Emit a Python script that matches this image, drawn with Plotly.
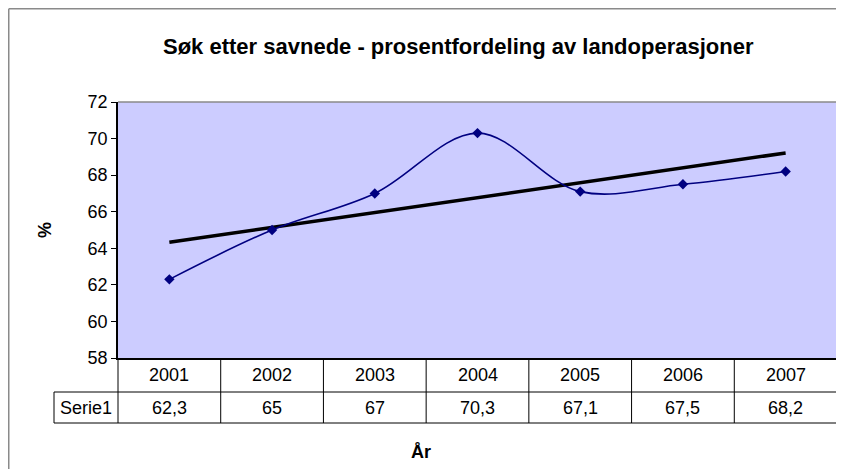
import plotly.graph_objects as go
import numpy as np

years = ["2001", "2002", "2003", "2004", "2005", "2006", "2007"]
values = [62.3, 65, 67, 70.3, 67.1, 67.5, 68.2]
series_name = "Serie1"
y_ticks = [58, 60, 62, 64, 66, 68, 70, 72]
title_text = "Søk etter savnede - prosentfordeling av landoperasjoner"
y_title = "%"
x_title = "År"

FONT = "Arial, Liberation Sans, sans-serif"
OFF = 8  # browser page margin
W, H = 844 - OFF, 469 - OFF
# plot area in reference (page) pixels: x 118..837, y 102..358
ML = 118 - OFF
MT = 102 - OFF
MR = W - (837 - OFF)
MB = H - (358 - OFF)
PW = W - ML - MR
PH = H - MT - MB

n = len(years)
xi = np.arange(1, n + 1)
slope, intercept = np.polyfit(xi, values, 1)
trend = slope * xi + intercept

fig = go.Figure()
fig.add_trace(go.Scatter(x=xi, y=trend, mode="lines",
                         line=dict(color="black", width=3.5), hoverinfo="skip",
                         showlegend=False))
fig.add_trace(go.Scatter(x=xi, y=values, mode="lines+markers",
                         line=dict(color="#000080", width=1.6, shape="spline", smoothing=1),
                         marker=dict(symbol="diamond", size=8, color="#000080"),
                         name=series_name, showlegend=False))


def px_x(p):
    return (p - OFF - ML) / PW


def px_y(p):
    return (H - MB - (p - OFF)) / PH


shapes = []
# outer chart border (top and left)
shapes.append(dict(type="line", xref="paper", yref="paper", x0=px_x(8.75), x1=px_x(850), y0=px_y(8.75), y1=px_y(8.75),
                   line=dict(color="#8a8a8a", width=1.5)))
shapes.append(dict(type="line", xref="paper", yref="paper", x0=px_x(8.75), x1=px_x(8.75), y0=px_y(8.75), y1=px_y(480),
                   line=dict(color="#8a8a8a", width=1.5)))
# plot-area top/right gray border
shapes.append(dict(type="line", xref="paper", yref="paper", x0=0, x1=1, y0=1, y1=1,
                   line=dict(color="#8a8a8a", width=1.5)))
shapes.append(dict(type="line", xref="paper", yref="paper", x0=1, x1=1, y0=0, y1=1,
                   line=dict(color="#8a8a8a", width=1.5)))

# data table
row1_bot = px_y(392)
row2_bot = px_y(423)
label_left = px_x(54)
tbl = dict(color="black", width=1)
for k in range(n + 1):
    shapes.append(dict(type="line", xref="paper", yref="paper", x0=k / n, x1=k / n, y0=0, y1=row2_bot, line=tbl))
shapes.append(dict(type="line", xref="paper", yref="paper", x0=label_left, x1=1, y0=row1_bot, y1=row1_bot, line=tbl))
shapes.append(dict(type="line", xref="paper", yref="paper", x0=label_left, x1=1, y0=row2_bot, y1=row2_bot, line=tbl))
shapes.append(dict(type="line", xref="paper", yref="paper", x0=label_left, x1=label_left, y0=row1_bot, y1=row2_bot, line=tbl))

annotations = []
fs = 18


def txt(x, y, s, size=fs, bold=False, angle=0):
    f = dict(family=FONT, size=size, color="black")
    if bold:
        f["weight"] = "bold"
    return dict(xref="paper", yref="paper", x=x, y=y, text=s, showarrow=False,
                xanchor="center", yanchor="middle", textangle=angle, font=f)


for k, (yr, v) in enumerate(zip(years, values)):
    cx = (k + 0.5) / n
    annotations.append(txt(cx, px_y(375), yr))
    annotations.append(txt(cx, px_y(407.5), f"{v:g}".replace(".", ",")))
annotations.append(txt(label_left / 2, px_y(407.5), series_name))
annotations.append(txt(px_x(421), px_y(452), x_title, size=18, bold=True))
annotations.append(txt(px_x(45), px_y(230), y_title, size=18, bold=True, angle=-90))
annotations.append(txt(px_x(458), px_y(46), title_text, size=22, bold=True))

fig.update_layout(
    width=W, height=H,
    margin=dict(l=ML, r=MR, t=MT, b=MB),
    paper_bgcolor="white", plot_bgcolor="#ccccff",
    xaxis=dict(range=[0.5, n + 0.5], showticklabels=False, showgrid=False, zeroline=False,
               showline=True, linecolor="black", linewidth=2, ticks=""),
    yaxis=dict(range=[58, 72], tickvals=y_ticks, showgrid=False, zeroline=False,
               showline=True, linecolor="black", linewidth=1.5, ticks="outside", ticklen=5,
               tickcolor="black", tickfont=dict(family=FONT, size=18, color="black")),
    shapes=shapes, annotations=annotations,
)

fig.write_html("out.html")
